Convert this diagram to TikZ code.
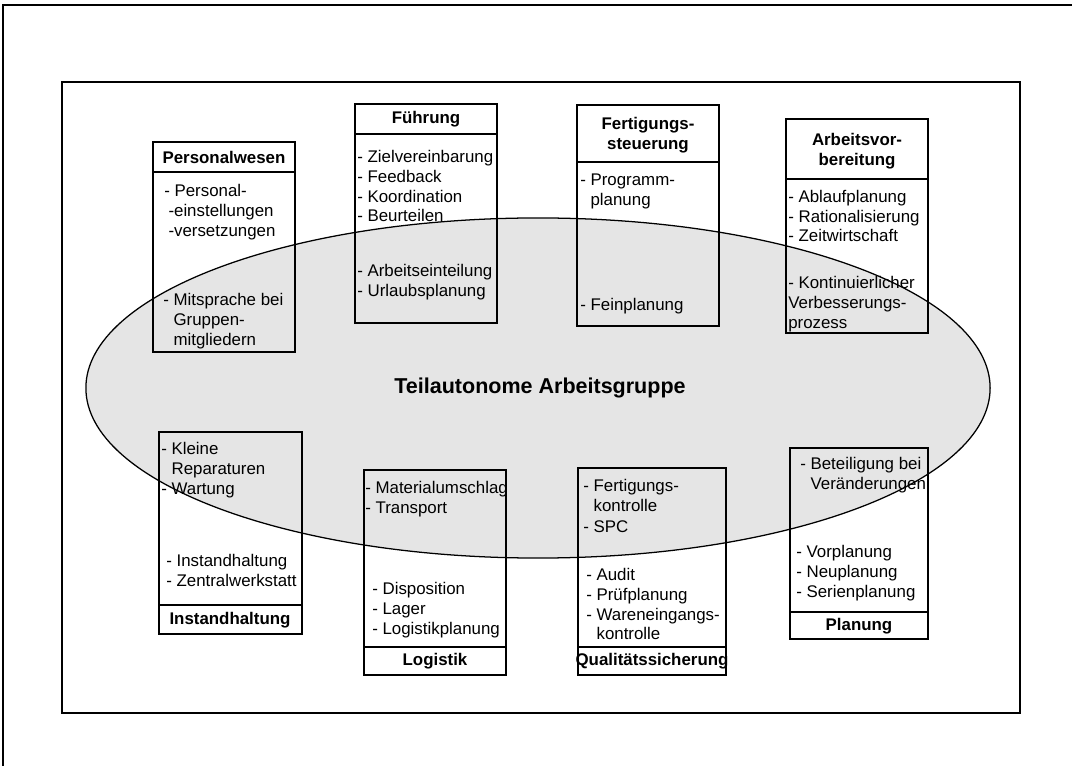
\documentclass[tikz,border=0pt]{standalone}
\usepackage{fontspec}
\setmainfont{Liberation Sans}
\usetikzlibrary{positioning}

\newcommand{\boxfont}{\fontsize{12}{14.2}\selectfont}
\newcommand{\ind}{\phantom{- }}

\begin{document}
\begin{tikzpicture}[x=0.025cm, y=-0.025cm, font=\boxfont,
    frame/.style={draw, line width=0.9pt},
    head/.style={font=\boxfont\bfseries, align=center, inner sep=0pt},
    items/.style={align=left, anchor=west, inner sep=0pt},
    group/.style={draw, line width=0.9pt, fill=black!10}]
  \useasboundingbox (0,0) rectangle (1072,766);
  \draw[line width=1pt] (3,766) -- (3,5) -- (1072,5);
  \draw[line width=1.1pt] (62,82) rectangle (1020,713);
  \draw[group] (538,388) ellipse [x radius=11.3cm, y radius=4.25cm];
  \node[font=\fontsize{15.3}{18}\selectfont\bfseries] (tag) at (540,388) {Teilautonome Arbeitsgruppe};

  \draw[frame] (153,142) rectangle (295,352); \draw[frame] (153,172) -- (295,172);
  \node[head] (pw) at (224,157) {Personalwesen};
  \node[items] (pw1) at (164,212) {- Personal-\\\hspace*{0.25em}-einstellungen\\\hspace*{0.25em}-versetzungen};
  \node[items] (pw2) at (163,321) {- Mitsprache bei\\\ind Gruppen-\\\ind mitgliedern};

  \draw[frame] (355,104) rectangle (497,323); \draw[frame] (355,134) -- (497,134);
  \node[head] (fu) at (426,119) {Führung};
  \node[items] (fu1) at (357,186) {- Zielvereinbarung\\- Feedback\\- Koordination\\- Beurteilen};
  \node[items] (fu2) at (357,282) {- Arbeitseinteilung\\- Urlaubsplanung};

  \draw[frame] (577,105) rectangle (719,326); \draw[frame] (577,162) -- (719,162);
  \node[head] (fs) at (648,135) {Fertigungs-\\steuerung};
  \node[items] (fs1) at (580,191) {- Programm-\\\ind planung};
  \node[items] (fs2) at (580,306) {- Feinplanung};

  \draw[frame] (786,119) rectangle (928,333); \draw[frame] (786,179) -- (928,179);
  \node[head] (av) at (857,151) {Arbeitsvor-\\bereitung};
  \node[items] (av1) at (788,216) {- Ablaufplanung\\- Rationalisierung\\- Zeitwirtschaft};
  \node[items] (av2) at (788,304) {- Kontinuierlicher\\Verbesserungs-\\prozess};

  \draw[frame] (159,432) rectangle (302,634); \draw[frame] (159,605) -- (302,605);
  \node[head] (ih) at (230,620) {Instandhaltung};
  \node[items] (ih1) at (161,470) {- Kleine\\\ind Reparaturen\\- Wartung};
  \node[items] (ih2) at (166,570) {- Instandhaltung\\- Zentralwerkstatt};

  \draw[frame] (364,470) rectangle (506,675); \draw[frame] (364,647) -- (506,647);
  \node[head] (lo) at (435,661) {Logistik};
  \node[items] (lo1) at (365,499) {- Materialumschlag\\- Transport};
  \node[items] (lo2) at (372,610) {- Disposition\\- Lager\\- Logistikplanung};

  \draw[frame] (578,468) rectangle (726,675); \draw[frame] (578,647) -- (726,647);
  \node[head] (qs) at (652,661) {Qualitätssicherung};
  \node[items] (qs1) at (583,495) {- Fertigungs-\\\ind kontrolle};
  \node[items] (qs2) at (583,527) {- SPC};
  \node[items] (qs3) at (586,604) {- Audit\\- Prüfplanung\\- Wareneingangs-\\\ind kontrolle};

  \draw[frame] (790,448) rectangle (928,639); \draw[frame] (790,612) -- (928,612);
  \node[head] (pl) at (859,626) {Planung};
  \node[items] (pl1) at (800,475) {- Beteiligung bei\\\ind Veränderungen};
  \node[items] (pl2) at (796,573) {- Vorplanung\\- Neuplanung\\- Serienplanung};
\end{tikzpicture}
\end{document}
